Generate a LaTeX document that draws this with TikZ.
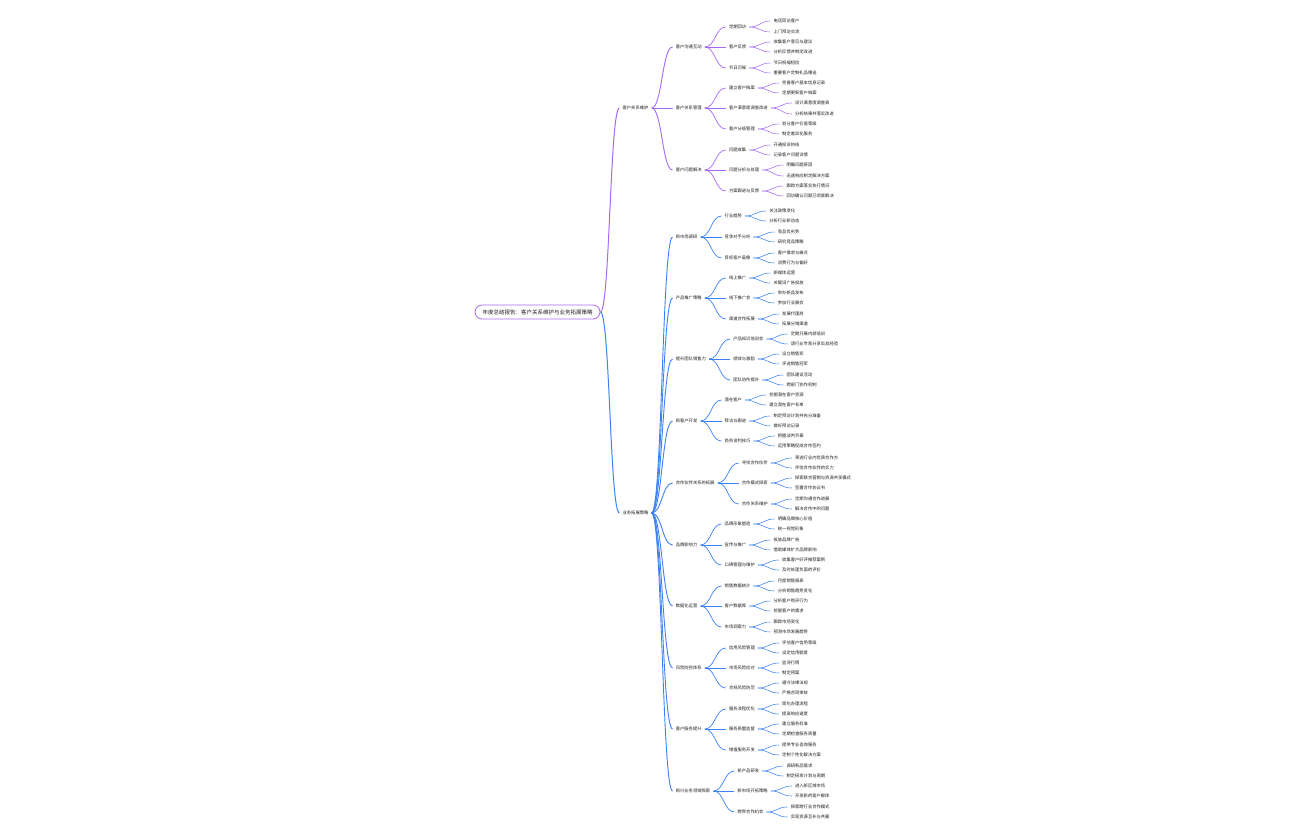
\documentclass[tikz,border=0pt]{standalone}
\usepackage{fontspec}
\setmainfont{Noto Sans CJK SC}
\usetikzlibrary{calc}
\definecolor{pur}{RGB}{165,105,245}
\definecolor{blu}{RGB}{60,130,245}
\definecolor{ink}{RGB}{30,30,30}
\tikzset{
  txt0/.style={font=\fontsize{4.3}{5}\selectfont, inner xsep=3pt, inner ysep=1pt, anchor=west, text=ink},
  txt/.style={txt0, xshift=21pt},
  rootbox/.style={draw=pur, line width=0.8pt, rounded corners=7pt, fill=white, minimum width=125pt, minimum height=14pt, inner sep=0pt, text=ink, font=\fontsize{5.5}{6}\selectfont},
  e1/.style={line width=1pt},
  e2/.style={line width=0.9pt},
  e3/.style={line width=0.7pt},
  e4/.style={line width=0.55pt}
}
\newcommand\lnk[3]{\draw[#1] let \p1=(#2.east), \p2=(#3.west) in (\p1) .. controls ({(\x1+\x2)/2},\y1) and ({(\x1+\x2)/2},\y2) .. (\p2);}
\newcommand\nd[5]{\node[txt] (#1) at (#2.east |- 0,#3) {#4};\lnk{#5}{#2}{#1}}
\begin{document}
\begin{tikzpicture}[x=1pt,y=-1pt]
\fill[white] (0,0) rectangle (1296,840);
\useasboundingbox (0,0) rectangle (1296,840);
\node[rootbox] (r) at (537.5,312) {年度总结报告：客户关系维护与业务拓展策略};
\node[txt0,xshift=19pt] (A) at (r.east |- 0,108) {客户关系维护};
\lnk{pur,e1}{r}{A}
\node[txt0,xshift=19pt] (B) at (r.east |- 0,513) {业务拓展策略};
\lnk{blu,e1}{r}{B}
% ---- A branch
\nd{A1}{A}{47}{客户沟通互动}{pur,e2}
 \nd{A11}{A1}{27}{定期回访}{pur,e3}
  \nd{A111}{A11}{21}{电话回访客户}{pur,e4}
  \nd{A112}{A11}{32}{上门拜访交流}{pur,e4}
 \nd{A12}{A1}{47}{客户反馈}{pur,e3}
  \nd{A121}{A12}{42}{收集客户意见与建议}{pur,e4}
  \nd{A122}{A12}{52}{分析反馈并制定改进}{pur,e4}
 \nd{A13}{A1}{68}{节日问候}{pur,e3}
  \nd{A131}{A13}{63}{节日祝福短信}{pur,e4}
  \nd{A132}{A13}{73}{重要客户定制礼品赠送}{pur,e4}
\nd{A2}{A}{108}{客户关系管理}{pur,e2}
 \nd{A21}{A2}{88}{建立客户档案}{pur,e3}
  \nd{A211}{A21}{83}{完善客户基本信息记录}{pur,e4}
  \nd{A212}{A21}{93}{定期更新客户档案}{pur,e4}
 \nd{A22}{A2}{108}{客户满意度调查改进}{pur,e3}
  \nd{A221}{A22}{103}{设计满意度调查表}{pur,e4}
  \nd{A222}{A22}{114}{分析结果并落实改进}{pur,e4}
 \nd{A23}{A2}{129}{客户分级管理}{pur,e3}
  \nd{A231}{A23}{124}{划分客户价值等级}{pur,e4}
  \nd{A232}{A23}{134}{制定差异化服务}{pur,e4}
\nd{A3}{A}{170}{客户问题解决}{pur,e2}
 \nd{A31}{A3}{150}{问题收集}{pur,e3}
  \nd{A311}{A31}{145}{开通投诉热线}{pur,e4}
  \nd{A312}{A31}{155}{记录客户问题详情}{pur,e4}
 \nd{A32}{A3}{170}{问题分析与处理}{pur,e3}
  \nd{A321}{A32}{165}{明确问题原因}{pur,e4}
  \nd{A322}{A32}{176}{迅速响应制定解决方案}{pur,e4}
 \nd{A33}{A3}{191}{方案跟进与反馈}{pur,e3}
  \nd{A331}{A33}{186}{跟踪方案落实执行情况}{pur,e4}
  \nd{A332}{A33}{196}{回访确认问题已彻底解决}{pur,e4}
% ---- B branch
\nd{B1}{B}{237}{新市场调研}{blu,e2}
 \nd{B11}{B1}{216}{行业趋势}{blu,e3}
  \nd{B111}{B11}{211}{关注政策变化}{blu,e4}
  \nd{B112}{B11}{221}{分析行业新动态}{blu,e4}
 \nd{B12}{B1}{237}{竞争对手分析}{blu,e3}
  \nd{B121}{B12}{232}{竞品优劣势}{blu,e4}
  \nd{B122}{B12}{242}{研究竞品策略}{blu,e4}
 \nd{B13}{B1}{258}{目标客户画像}{blu,e3}
  \nd{B131}{B13}{253}{客户需求与痛点}{blu,e4}
  \nd{B132}{B13}{263}{消费行为与偏好}{blu,e4}
\nd{B2}{B}{298}{产品推广策略}{blu,e2}
 \nd{B21}{B2}{278}{线上推广}{blu,e3}
  \nd{B211}{B21}{273}{新媒体运营}{blu,e4}
  \nd{B212}{B21}{283}{关键词广告投放}{blu,e4}
 \nd{B22}{B2}{298}{线下推广会}{blu,e3}
  \nd{B221}{B22}{293}{举办新品发布}{blu,e4}
  \nd{B222}{B22}{303}{参加行业展会}{blu,e4}
 \nd{B23}{B2}{319}{渠道合作拓展}{blu,e3}
  \nd{B231}{B23}{314}{发展代理商}{blu,e4}
  \nd{B232}{B23}{324}{拓展分销渠道}{blu,e4}
\nd{B3}{B}{359}{提升团队销售力}{blu,e2}
 \nd{B31}{B3}{339}{产品知识培训会}{blu,e3}
  \nd{B311}{B31}{334}{定期开展内部培训}{blu,e4}
  \nd{B312}{B31}{344}{请行业专家分享实战经验}{blu,e4}
 \nd{B32}{B3}{359}{绩效与激励}{blu,e3}
  \nd{B321}{B32}{354}{设立销售奖}{blu,e4}
  \nd{B322}{B32}{364}{评选销售冠军}{blu,e4}
 \nd{B33}{B3}{380}{团队协作提升}{blu,e3}
  \nd{B331}{B33}{375}{团队建设活动}{blu,e4}
  \nd{B332}{B33}{385}{跨部门协作机制}{blu,e4}
\nd{B4}{B}{421}{新客户开发}{blu,e2}
 \nd{B41}{B4}{400}{潜在客户}{blu,e3}
  \nd{B411}{B41}{395}{挖掘潜在客户资源}{blu,e4}
  \nd{B412}{B41}{405}{建立潜在客户名单}{blu,e4}
 \nd{B42}{B4}{421}{拜访与跟进}{blu,e3}
  \nd{B421}{B42}{416}{制定拜访计划并充分准备}{blu,e4}
  \nd{B422}{B42}{426}{做好拜访记录}{blu,e4}
 \nd{B43}{B4}{441}{商务谈判技巧}{blu,e3}
  \nd{B431}{B43}{436}{把握谈判节奏}{blu,e4}
  \nd{B432}{B43}{446}{运用策略促成合作签约}{blu,e4}
\nd{B5}{B}{483}{合作伙伴关系的拓展}{blu,e2}
 \nd{B51}{B5}{463}{寻找合作伙伴}{blu,e3}
  \nd{B511}{B51}{458}{筛选行业内优质合作方}{blu,e4}
  \nd{B512}{B51}{468}{评估合作伙伴的实力}{blu,e4}
 \nd{B52}{B5}{483}{合作模式探索}{blu,e3}
  \nd{B521}{B52}{478}{探索联合营销与资源共享模式}{blu,e4}
  \nd{B522}{B52}{488}{签署合作协议书}{blu,e4}
 \nd{B53}{B5}{504}{合作关系维护}{blu,e3}
  \nd{B531}{B53}{499}{定期沟通合作进展}{blu,e4}
  \nd{B532}{B53}{509}{解决合作中的问题}{blu,e4}
\nd{B6}{B}{545}{品牌影响力}{blu,e2}
 \nd{B61}{B6}{524}{品牌形象塑造}{blu,e3}
  \nd{B611}{B61}{519}{明确品牌核心价值}{blu,e4}
  \nd{B612}{B61}{529}{统一视觉形象}{blu,e4}
 \nd{B62}{B6}{545}{宣传与推广}{blu,e3}
  \nd{B621}{B62}{540}{投放品牌广告}{blu,e4}
  \nd{B622}{B62}{550}{借助媒体扩大品牌影响}{blu,e4}
 \nd{B63}{B6}{565}{口碑管理与维护}{blu,e3}
  \nd{B631}{B63}{560}{收集客户好评推荐案例}{blu,e4}
  \nd{B632}{B63}{570}{及时处理负面的评价}{blu,e4}
\nd{B7}{B}{606}{数据化运营}{blu,e2}
 \nd{B71}{B7}{586}{销售数据统计}{blu,e3}
  \nd{B711}{B71}{581}{月度销售报表}{blu,e4}
  \nd{B712}{B71}{591}{分析销售趋势变化}{blu,e4}
 \nd{B72}{B7}{606}{客户数据库}{blu,e3}
  \nd{B721}{B72}{601}{分析客户购买行为}{blu,e4}
  \nd{B722}{B72}{611}{挖掘客户的需求}{blu,e4}
 \nd{B73}{B7}{627}{市场洞察力}{blu,e3}
  \nd{B731}{B73}{622}{跟踪市场变化}{blu,e4}
  \nd{B732}{B73}{632}{预测市场发展趋势}{blu,e4}
\nd{B8}{B}{668}{风险防控体系}{blu,e2}
 \nd{B81}{B8}{648}{信用风险管理}{blu,e3}
  \nd{B811}{B81}{643}{评估客户信用等级}{blu,e4}
  \nd{B812}{B81}{653}{设定信用额度}{blu,e4}
 \nd{B82}{B8}{668}{市场风险应对}{blu,e3}
  \nd{B821}{B82}{663}{监测行情}{blu,e4}
  \nd{B822}{B82}{673}{制定预案}{blu,e4}
 \nd{B83}{B8}{688}{合规风险防范}{blu,e3}
  \nd{B831}{B83}{683}{遵守法律法规}{blu,e4}
  \nd{B832}{B83}{693}{严格合同审核}{blu,e4}
\nd{B9}{B}{729}{客户服务提升}{blu,e2}
 \nd{B91}{B9}{709}{服务流程优化}{blu,e3}
  \nd{B911}{B91}{704}{简化办理流程}{blu,e4}
  \nd{B912}{B91}{714}{提高响应速度}{blu,e4}
 \nd{B92}{B9}{729}{服务质量监督}{blu,e3}
  \nd{B921}{B92}{724}{建立服务标准}{blu,e4}
  \nd{B922}{B92}{734}{定期检查服务质量}{blu,e4}
 \nd{B93}{B9}{750}{增值服务开发}{blu,e3}
  \nd{B931}{B93}{745}{提供专业咨询服务}{blu,e4}
  \nd{B932}{B93}{755}{定制个性化解决方案}{blu,e4}
\nd{B10}{B}{791}{新兴业务领域探索}{blu,e2}
 \nd{B101}{B10}{771}{新产品研发}{blu,e3}
  \nd{B1011}{B101}{766}{调研新品需求}{blu,e4}
  \nd{B1012}{B101}{776}{制定研发计划与周期}{blu,e4}
 \nd{B102}{B10}{791}{新市场开拓策略}{blu,e3}
  \nd{B1021}{B102}{786}{进入新区域市场}{blu,e4}
  \nd{B1022}{B102}{796}{开发新的客户群体}{blu,e4}
 \nd{B103}{B10}{812}{跨界合作机会}{blu,e3}
  \nd{B1031}{B103}{807}{探索跨行业合作模式}{blu,e4}
  \nd{B1032}{B103}{817}{实现资源互补与共赢}{blu,e4}
\end{tikzpicture}
\end{document}
